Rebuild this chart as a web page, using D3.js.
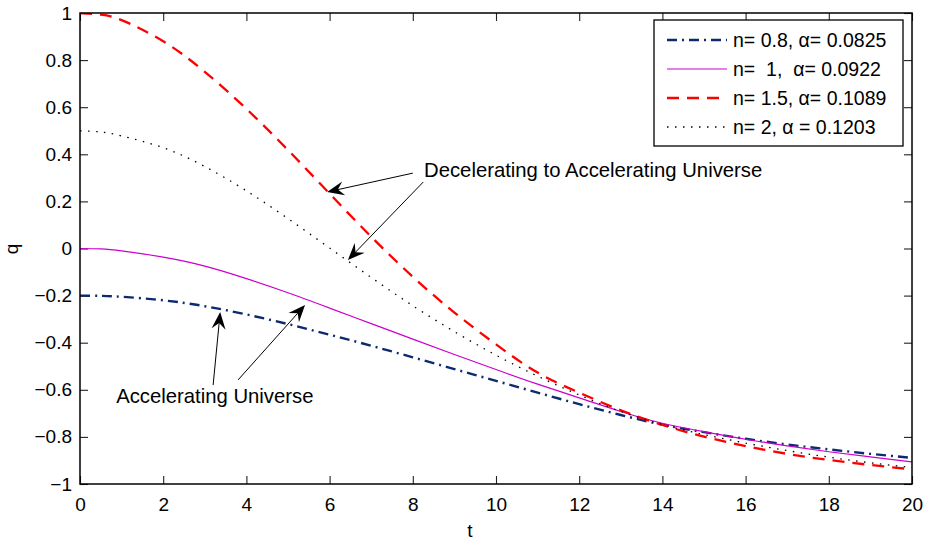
<!DOCTYPE html>
<html>
<head>
<meta charset="utf-8">
<title>q vs t</title>
<style>
  body { margin: 0; background: #fff; }
  svg text { font-family: "Liberation Sans", Arial, Helvetica, sans-serif; fill: #000; white-space: pre; }
</style>
</head>
<body>
<script src="https://cdn.jsdelivr.net/npm/d3@7"></script>
<script>

// values
var tVals  = [0, 0.5, 1, 2, 3, 4, 5, 6, 7, 8, 9, 10, 11, 12, 13, 14, 15, 16, 17, 18, 19, 20];
var qN08   = [-0.2, -0.201, -0.205, -0.22, -0.245, -0.28, -0.321, -0.366, -0.413, -0.462, -0.512, -0.562, -0.612, -0.661, -0.707, -0.748, -0.78, -0.808, -0.832, -0.853, -0.872, -0.889];
var qN1    = [0, -0.002, -0.01, -0.037, -0.075, -0.128, -0.188, -0.253, -0.319, -0.385, -0.45, -0.514, -0.576, -0.634, -0.692, -0.742, -0.778, -0.81, -0.838, -0.863, -0.885, -0.906];
var qN15   = [1, 0.993, 0.97, 0.88, 0.75, 0.593, 0.418, 0.233, 0.05, -0.12, -0.272, -0.407, -0.527, -0.612, -0.687, -0.749, -0.799, -0.839, -0.872, -0.898, -0.919, -0.938];
var qN2    = [0.5, 0.495, 0.478, 0.428, 0.348, 0.245, 0.127, 0.002, -0.123, -0.243, -0.353, -0.453, -0.542, -0.622, -0.692, -0.747, -0.79, -0.826, -0.858, -0.886, -0.91, -0.93];

var seriesNames = ["n= 0.8, \u03b1= 0.0825", "n=  1,  \u03b1= 0.0922", "n= 1.5, \u03b1= 0.1089", "n= 2, \u03b1 = 0.1203"];
var xTicks = [0, 2, 4, 6, 8, 10, 12, 14, 16, 18, 20];
var yTicks = [-1, -0.8, -0.6, -0.4, -0.2, 0, 0.2, 0.4, 0.6, 0.8, 1];
var yTickLabels = ["\u22121", "\u22120.8", "\u22120.6", "\u22120.4", "\u22120.2", "0", "0.2", "0.4", "0.6", "0.8", "1"];

var w = 928, h = 542;
var margin = {top: 13, right: 16, bottom: 58, left: 80};

var styles = [
  {color: "#0b2a6f", width: 2.4, dash: "10,5,2,5"},
  {color: "#cc00cc", width: 1.2, dash: null},
  {color: "#ff0000", width: 2.3, dash: "12,8"},
  {color: "#000000", width: 1.3, dash: "1.5,6.5"}
];
var allQ = [qN08, qN1, qN15, qN2];

var svg = d3.select("body").append("svg")
  .attr("width", w)
  .attr("height", h);

var xScale = d3.scaleLinear().domain([0, 20]).range([margin.left, w - margin.right]);
var yScale = d3.scaleLinear().domain([-1, 1]).range([h - margin.bottom, margin.top]);

svg.append("defs").append("clipPath").attr("id", "clip")
  .append("rect")
  .attr("x", margin.left).attr("y", margin.top)
  .attr("width", w - margin.left - margin.right)
  .attr("height", h - margin.top - margin.bottom);

// axes, ticks pointing inwards on all four sides (box on)
var tickLen = 8;
var plotW = w - margin.left - margin.right;
var plotH = h - margin.top - margin.bottom;

var xAxis = svg.append("g").attr("class", "axis")
  .attr("transform", "translate(0," + (h - margin.bottom) + ")")
  .call(d3.axisBottom(xScale).tickValues(xTicks).tickSize(-tickLen).tickPadding(17).tickFormat(d3.format("d")));
var yAxis = svg.append("g").attr("class", "axis")
  .attr("transform", "translate(" + margin.left + ",0)")
  .call(d3.axisLeft(yScale).tickValues(yTicks).tickSize(-tickLen).tickPadding(8)
    .tickFormat(function(d, i){ return yTickLabels[i]; }));
svg.append("g").attr("class", "axis")
  .attr("transform", "translate(0," + margin.top + ")")
  .call(d3.axisTop(xScale).tickValues(xTicks).tickSize(-tickLen).tickFormat(""));
svg.append("g").attr("class", "axis")
  .attr("transform", "translate(" + (w - margin.right) + ",0)")
  .call(d3.axisRight(yScale).tickValues(yTicks).tickSize(-tickLen).tickFormat(""));

svg.selectAll(".axis .domain").remove();
svg.selectAll(".axis line").attr("stroke", "#222").attr("stroke-width", 1.1);
svg.selectAll(".axis text").attr("font-size", 19).attr("fill", "#000");
xAxis.selectAll("text").attr("dy", "0.5em");

// curves
var line = d3.line()
  .x(function(d){ return xScale(d[0]); })
  .y(function(d){ return yScale(d[1]); })
  .curve(d3.curveNatural);

var curves = svg.append("g").attr("clip-path", "url(#clip)");
allQ.forEach(function(q, k){
  var pts = tVals.map(function(t, i){ return [t, q[i]]; });
  curves.append("path")
    .attr("d", line(pts))
    .attr("fill", "none")
    .attr("stroke", styles[k].color)
    .attr("stroke-width", styles[k].width)
    .attr("stroke-dasharray", styles[k].dash);
});

// frame
svg.append("rect")
  .attr("x", margin.left).attr("y", margin.top)
  .attr("width", plotW).attr("height", plotH)
  .attr("fill", "none").attr("stroke", "#000").attr("stroke-width", 1.5);

// axis labels
svg.append("text").attr("x", 470).attr("y", 537).attr("text-anchor", "middle")
  .attr("font-size", 19).text("t");
svg.append("text").attr("transform", "translate(18,249) rotate(-90)")
  .attr("text-anchor", "middle").attr("font-size", 19).text("q");

// annotations (positions in data units)
var notes = [
  {text: "Decelerating to Accelerating Universe", at: [8.27, 0.304],
   arrows: [[[8.0, 0.32], [5.94, 0.24]], [[8.25, 0.282], [6.44, -0.049]]]},
  {text: "Accelerating Universe", at: [0.87, -0.656],
   arrows: [[[3.2, -0.58], [3.37, -0.27]], [[3.8, -0.558], [5.41, -0.24]]]}
];

function arrowHead(x0, y0, x1, y1){
  var L = 17, W = 7, back = 11;
  var a = Math.atan2(y1 - y0, x1 - x0);
  var c = Math.cos(a), s = Math.sin(a);
  function p(u, v){ return [x1 - u * c - v * s, y1 - u * s + v * c]; }
  var pts = [[x1, y1], p(L, W), p(back, 0), p(L, -W)];
  return "M" + pts.map(function(q){ return q[0] + "," + q[1]; }).join("L") + "Z";
}

var ann = svg.append("g");
notes.forEach(function(n){
  ann.append("text")
    .attr("x", xScale(n.at[0])).attr("y", yScale(n.at[1]))
    .attr("font-size", 20.3)
    .text(n.text);
  n.arrows.forEach(function(a){
    var x0 = xScale(a[0][0]), y0 = yScale(a[0][1]);
    var x1 = xScale(a[1][0]), y1 = yScale(a[1][1]);
    var ang = Math.atan2(y1 - y0, x1 - x0);
    ann.append("line")
      .attr("x1", x0).attr("y1", y0)
      .attr("x2", x1 - 11 * Math.cos(ang)).attr("y2", y1 - 11 * Math.sin(ang))
      .attr("stroke", "#000").attr("stroke-width", 1);
    ann.append("path").attr("d", arrowHead(x0, y0, x1, y1)).attr("fill", "#000");
  });
});

// legend
var lg = svg.append("g");
lg.append("rect")
  .attr("x", 654).attr("y", 20).attr("width", 249).attr("height", 126)
  .attr("fill", "#fff").attr("stroke", "#000").attr("stroke-width", 1.3);
var rowY = [40, 69, 98, 127];
seriesNames.forEach(function(name, k){
  lg.append("line")
    .attr("x1", 667).attr("x2", 727)
    .attr("y1", rowY[k]).attr("y2", rowY[k])
    .attr("stroke", styles[k].color)
    .attr("stroke-width", styles[k].width)
    .attr("stroke-dasharray", styles[k].dash);
  lg.append("text")
    .attr("x", 733).attr("y", rowY[k] + 7)
    .attr("font-size", 19.5)
    .text(name);
});

</script>
</body>
</html>
